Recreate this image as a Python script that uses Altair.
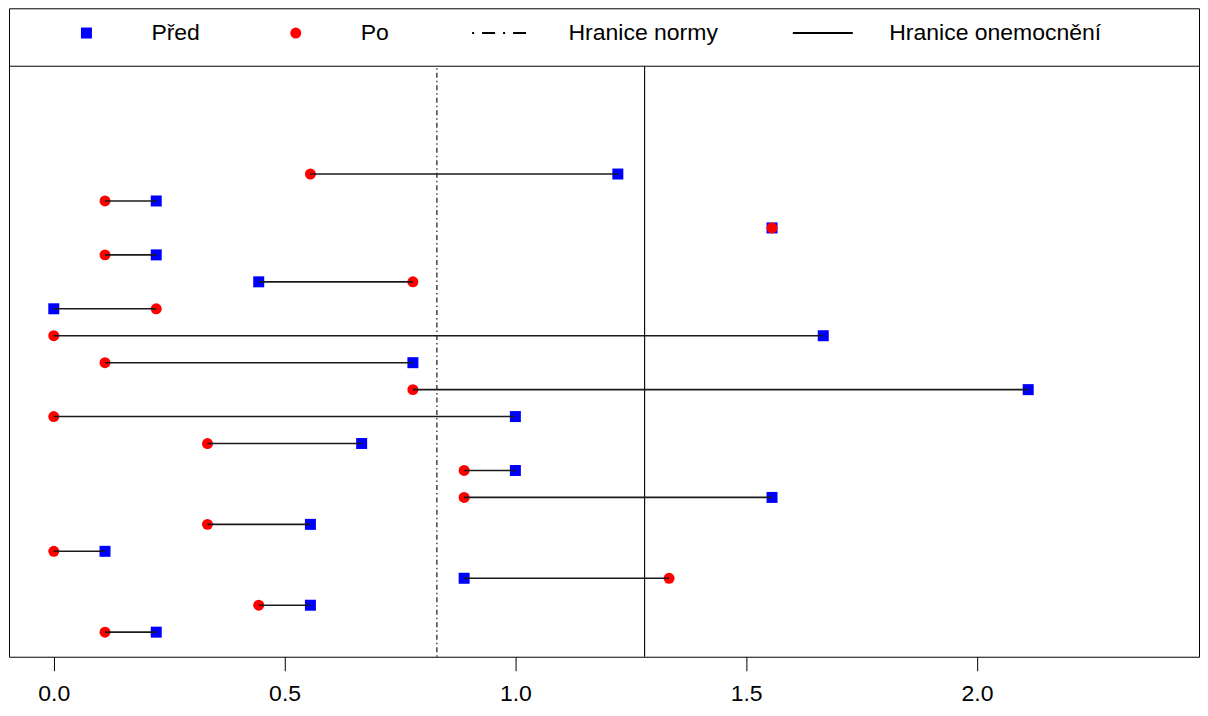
import altair as alt
import pandas as pd

# ---- data ----
rows = list(range(1, 19))
pred = [0.222, 0.556, 0.889, 0.111, 0.556, 1.556, 1.0, 0.667, 1.0, 2.111,
        0.778, 1.667, 0.0, 0.444, 0.222, 1.556, 0.222, 1.222]
po = [0.111, 0.444, 1.333, 0.0, 0.333, 0.889, 0.889, 0.333, 0.0, 0.778,
      0.111, 0.0, 0.222, 0.778, 0.111, 1.556, 0.111, 0.556]
series_names = ["Před", "Po"]
series_colors = ["#0000FF", "#FF0000"]
series_shapes = ["square", "circle"]
limit_names = ["Hranice normy", "Hranice onemocnění"]
limit_values = [0.83, 1.28]
x_ticks = [0.0, 0.5, 1.0, 1.5, 2.0]

# axis limits (plot region below the legend strip ends at Y_SEP)
X_MIN, X_MAX = -0.097, 2.481
Y_MIN, Y_SEP, Y_MAX = 0.088, 22.0, 24.15

FONT = "Liberation Sans"
W = 1191
H = 649

pts_df = pd.DataFrame({
    "row": rows + rows,
    "value": pred + po,
    "serie": [series_names[0]] * len(rows) + [series_names[1]] * len(rows),
})
seg_df = pd.DataFrame({"row": rows, "pred": pred, "po": po})
lim_df = pd.DataFrame({"name": limit_names, "value": limit_values})

x_scale = alt.Scale(domain=[X_MIN, X_MAX], nice=False, zero=False)
y_scale = alt.Scale(domain=[Y_MIN, Y_MAX], nice=False, zero=False)

x_axis = alt.Axis(values=x_ticks, format=".1f", tickSize=14, tickColor="black",
                  tickWidth=1, domain=False, grid=False, labelFontSize=23,
                  labelFont=FONT, labelColor="black", labelPadding=12,
                  title=None, labelFlush=False)

pts_legend = alt.Legend(title=None, orient="none", legendX=66, legendY=13,
                        direction="horizontal", labelFont=FONT, labelFontSize=23,
                        labelColor="black", symbolSize=121, symbolStrokeWidth=0,
                        labelOffset=53.5, columnPadding=83.5, padding=0,
                        labelLimit=400)

lim_legend = alt.Legend(title=None, orient="none", legendX=482, legendY=13,
                        direction="horizontal", labelFont=FONT, labelFontSize=23,
                        labelColor="black", symbolType="M-5,0H5", symbolSize=144,
                        symbolStrokeWidth=2, symbolStrokeColor="black",
                        symbolFillColor="transparent", symbolOpacity=1,
                        labelOffset=55, columnPadding=70, padding=0,
                        labelLimit=400)

# line separating the legend strip from the plot region
separator = alt.Chart(lim_df.head(1)).mark_rule(color="black", strokeWidth=1).encode(
    y=alt.datum(Y_SEP, scale=y_scale, axis=None),
)

# visible limit lines (plot dash pattern)
limits = alt.Chart(lim_df).mark_rule(color="black", strokeWidth=1.1).encode(
    x=alt.X("value:Q", scale=x_scale, axis=x_axis),
    y=alt.datum(Y_MIN, scale=y_scale, axis=None),
    y2=alt.datum(Y_SEP),
    strokeDash=alt.StrokeDash(
        "name:N",
        scale=alt.Scale(domain=limit_names, range=[[1.5, 3, 5, 3], [1, 0]]),
        legend=None),
)

# invisible copy that only carries the legend (wider legend dash pattern)
limits_key = alt.Chart(lim_df).mark_rule(color="black", opacity=0).encode(
    x=alt.X("value:Q", scale=x_scale, axis=x_axis),
    y=alt.datum(Y_MIN, scale=y_scale, axis=None),
    y2=alt.datum(Y_SEP),
    strokeDash=alt.StrokeDash(
        "name:N",
        scale=alt.Scale(domain=limit_names, range=[[2, 8, 13, 8], [1, 0]]),
        legend=lim_legend),
)

points = alt.Chart(pts_df).mark_point(filled=True, size=121, opacity=1).encode(
    x=alt.X("value:Q", scale=x_scale, axis=x_axis),
    y=alt.Y("row:Q", scale=y_scale, axis=None),
    color=alt.Color("serie:N",
                    scale=alt.Scale(domain=series_names, range=series_colors),
                    legend=pts_legend),
    shape=alt.Shape("serie:N",
                    scale=alt.Scale(domain=series_names, range=series_shapes),
                    legend=pts_legend),
)

segs = alt.Chart(seg_df).mark_rule(color="#1a1a1a", strokeWidth=1.6).encode(
    x=alt.X("pred:Q", scale=x_scale, axis=x_axis),
    x2="po:Q",
    y=alt.Y("row:Q", scale=y_scale, axis=None),
)

chart = alt.layer(separator, limits_key, limits, points, segs).resolve_scale(
    strokeDash="independent"
).properties(
    width=W, height=H,
    padding={"left": 0, "top": 0, "right": 0, "bottom": 0},
).configure_view(stroke="black", strokeWidth=1)

chart.save("out.html", embed_options={"renderer": "svg", "actions": False})
